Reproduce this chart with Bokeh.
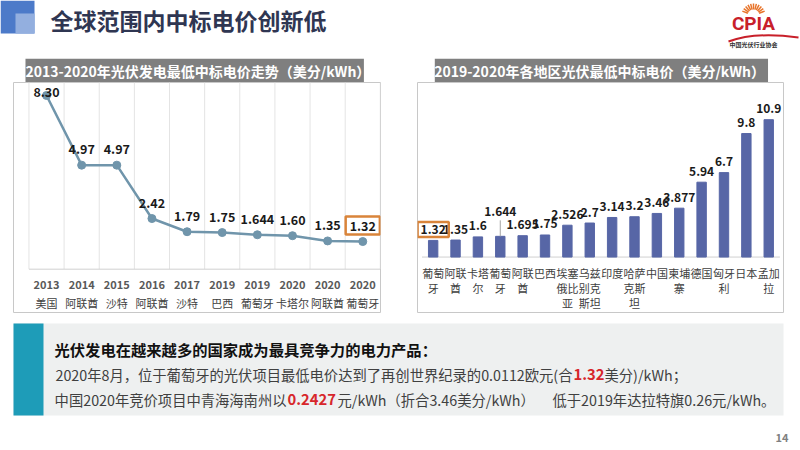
import numpy as np
from bokeh.plotting import figure
from bokeh.layouts import column, row
from bokeh.models import Range1d, ColumnDataSource
from bokeh.core.properties import value
from bokeh.embed import file_html
from bokeh.resources import INLINE

# ---------------- data ----------------
trend_years = ["2013", "2014", "2015", "2016", "2017", "2019", "2019", "2020", "2020", "2020"]
trend_countries = ["美国", "阿联酋", "沙特", "阿联酋", "沙特", "巴西", "葡萄牙", "卡塔尔", "阿联酋", "葡萄牙"]
trend_prices = [8.30, 4.97, 4.97, 2.42, 1.79, 1.75, 1.644, 1.60, 1.35, 1.32]
trend_labels = ["8.30", "4.97", "4.97", "2.42", "1.79", "1.75", "1.644", "1.60", "1.35", "1.32"]

region_names = ["葡萄\n牙", "阿联\n酋", "卡塔\n尔", "葡萄\n牙", "阿联\n酋", "巴西", "埃塞\n俄比\n亚",
                "乌兹\n别克\n斯坦", "印度", "哈萨\n克斯\n坦", "中国", "柬埔\n寨", "德国", "匈牙\n利",
                "日本", "孟加\n拉"]
region_prices = [1.32, 1.35, 1.6, 1.644, 1.695, 1.75, 2.526, 2.7, 3.14, 3.2, 3.46, 3.877, 5.94, 6.7, 9.8, 10.9]
region_labels = ["1.32", "1.35", "1.6", "1.644", "1.695", "1.75", "2.526", "2.7", "3.14", "3.2", "3.46",
                 "3.877", "5.94", "6.7", "9.8", "10.9"]

page_title = "全球范围内中标电价创新低"
left_title = "2013-2020年光伏发电最低中标电价走势（美分/kWh）"
right_title = "2019-2020年各地区光伏最低中标电价（美分/kWh）"

FONT = value("Noto Sans CJK SC")
LINE_C = "#7095AB"
BAR_C = "#5766A6"
ORANGE = "#D9843A"
BORDER = "#C8C8C8"
RED = "#D7262B"


def deco(w, h, x0, x1, y0, y1):
    p = figure(width=w, height=h, x_range=Range1d(x0, x1), y_range=Range1d(y1, y0),
               output_backend="svg", toolbar_location=None, min_border=0,
               x_axis_location=None, y_axis_location=None)
    p.grid.visible = False
    p.outline_line_color = None
    p.background_fill_color = "white"
    p.border_fill_color = "white"
    return p


# ---------------- top banner ----------------
top = deco(800, 58, 0, 800, 0, 58)
top.quad(left=0, right=34, top=0, bottom=33, color="#4C7AC9", line_color=None)
top.quad(left=15, right=34, top=13, bottom=33, color="#93AFDF", line_color=None)
top.text(x=[50], y=[19], text=[page_title], text_font=FONT, text_font_style="bold",
         text_font_size="23px", text_color="#2F3652", text_baseline="middle", text_align="left")
ang = np.linspace(np.pi * 0.12, np.pi * 0.88, 11)
top.segment(x0=753 + 6 * np.cos(ang), y0=15 - 6 * np.sin(ang),
            x1=753 + 12 * np.cos(ang), y1=15 - 12 * np.sin(ang),
            line_color="#E8742A", line_width=1.5)
top.text(x=[753], y=[23], text=["CPIA"], text_font=value("Roboto"), text_font_style="bold",
         text_font_size="19px", text_color="#C8202A", text_baseline="middle", text_align="center")
top.quadratic(x0=[728], y0=[41], x1=[798], y1=[37], cx=[755], cy=[31],
              line_color="#C8202A", line_width=2)
top.text(x=[753], y=[44], text=["中国光伏行业协会"], text_font=FONT, text_font_style="bold",
         text_font_size="6px", text_color="#333333", text_baseline="middle", text_align="center")


# ---------------- panel headers ----------------
def header(w, x0, x1, bx0, bx1, title, tx):
    h = deco(w, 24, x0, x1, 58, 82)
    h.quad(left=bx0, right=bx1, top=58, bottom=82, color="#7F7F7F", line_color=None)
    h.text(x=[tx], y=[70.5], text=[title], text_font=FONT, text_font_style="bold",
           text_font_size="14px", text_color="white", text_baseline="middle", text_align="center")
    return h


lh = header(398, 0, 398, 13, 380, left_title, 200)
rh = header(402, 398, 800, 417, 783, right_title, 598)


def body(w, xr, yr, mb_left, mb_right):
    p = figure(width=w, height=236, x_range=Range1d(*xr), y_range=Range1d(*yr),
               output_backend="svg", toolbar_location=None,
               x_axis_location=None, y_axis_location=None,
               min_border_left=mb_left, min_border_right=mb_right,
               min_border_top=0, min_border_bottom=6)
    p.grid.visible = False
    p.outline_line_color = BORDER
    p.outline_line_width = 1
    p.background_fill_color = "white"
    p.border_fill_color = "white"
    return p


# ---------------- left: line chart ----------------
n = len(trend_prices)
xs = list(range(n))
lb = body(398, (-0.94, 9.505), (-2.07, 8.92), 13, 18)
bounds = [i - 0.5 for i in range(n + 1)]
lb.segment(x0=bounds, y0=0, x1=bounds, y1=8.92, line_color="#E4E4E4", line_width=1)
lb.segment(x0=[-0.5], y0=[0], x1=[n - 0.5], y1=[0], line_color="#D0D0D0", line_width=1)
lb.line(xs, trend_prices, line_color=LINE_C, line_width=2.5)
lb.scatter(xs, trend_prices, size=8, color=LINE_C)

hl = n - 1
top_val = max(trend_prices)
lsrc = ColumnDataSource(dict(
    x=[xs[i] for i in range(n) if i != hl],
    y=[trend_prices[i] for i in range(n) if i != hl],
    t=[trend_labels[i] for i in range(n) if i != hl],
    dy=[(-3 if trend_prices[i] == top_val else -16) for i in range(n) if i != hl],
))
lb.text(x="x", y="y", text="t", y_offset="dy", source=lsrc, text_font=FONT, text_font_style="bold",
        text_font_size="12.5px", text_color="#1A1A1A", text_align="center", text_baseline="middle")
lb.text(x=[xs[hl]], y=[trend_prices[hl]], text=[trend_labels[hl]], y_offset=-16,
        text_font=FONT, text_font_style="bold", text_font_size="12.5px", text_color="#1A1A1A",
        text_align="center", text_baseline="middle",
        border_line_color=ORANGE, border_line_width=2.5, padding=4)
lb.text(x=xs, y=0, text=trend_years, y_offset=15.5, text_font=FONT, text_font_style="bold",
        text_font_size="11px", text_color="#595959", text_align="center", text_baseline="middle")
lb.text(x=xs, y=0, text=trend_countries, y_offset=33.5, text_font=FONT,
        text_font_size="11px", text_color="#404040", text_align="center", text_baseline="middle")

# ---------------- right: bar chart ----------------
m = len(region_prices)
rx = list(range(m))
rb = body(402, (-0.70, 15.66), (-4.4, 13.85), 19, 17)
rb.segment(x0=[-0.5], y0=[0], x1=[m - 0.5], y1=[0], line_color="#D0D0D0", line_width=1)
rb.vbar(x=rx, top=region_prices, width=0.42, color=BAR_C)

rhl = 0
raised = 3
rsrc = ColumnDataSource(dict(
    x=[rx[i] for i in range(m) if i != rhl],
    y=[region_prices[i] for i in range(m) if i != rhl],
    t=[region_labels[i] for i in range(m) if i != rhl],
    dy=[(-25 if i == raised else -11) for i in range(m) if i != rhl],
))
rb.ray(x=[rx[raised]], y=[region_prices[raised]], length=16, length_units="screen",
       angle=np.pi / 2, line_color="#A6A6A6", line_width=1)
rb.text(x="x", y="y", text="t", y_offset="dy", source=rsrc, text_font=FONT, text_font_style="bold",
        text_font_size="12px", text_color="#1A1A1A", text_align="center", text_baseline="middle")
rb.text(x=[rx[rhl]], y=[region_prices[rhl]], text=[region_labels[rhl]], y_offset=-11,
        text_font=FONT, text_font_style="bold", text_font_size="12px", text_color="#1A1A1A",
        text_align="center", text_baseline="middle",
        border_line_color=ORANGE, border_line_width=2.5, padding=3)
rows = [[], [], []]
for i, name in enumerate(region_names):
    parts = name.split("\n")
    for r in range(3):
        if r < len(parts):
            rows[r].append((rx[i], parts[r]))
for r, items in enumerate(rows):
    rb.text(x=[a for a, _ in items], y=0, text=[b for _, b in items], y_offset=16 + 15 * r,
            text_font=FONT, text_font_size="11px", text_color="#404040",
            text_align="center", text_baseline="middle")

# ---------------- bottom text box ----------------
bot = deco(800, 132, 0, 800, 318, 450)
bot.quad(left=13, right=783, top=323, bottom=415, color="#EEF0F0", line_color=None)
bot.quad(left=13, right=43, top=323, bottom=415, color="#1E9CB8", line_color=None)


def seg(x, y, t, color="#404040", bold=False, size="14.3px", align="left"):
    bot.text(x=[x], y=[y], text=[t], text_font=FONT, text_font_style="bold" if bold else "normal",
             text_font_size=size, text_color=color, text_align=align, text_baseline="middle")


seg(54, 348, "光伏发电在越来越多的国家成为最具竞争力的电力产品：", "#111111", True, "15.3px")
seg(572, 374, "2020年8月，位于葡萄牙的光伏项目最低电价达到了再创世界纪录的0.0112欧元(合", align="right")
seg(573, 374, "1.32", RED, True, "14.8px")
seg(604, 374, "美分)/kWh；")
seg(286, 399, "中国2020年竞价项目中青海海南州以", align="right")
seg(287, 399, "0.2427", RED, True, "14.8px")
seg(337, 399, "元/kWh（折合3.46美分/kWh）")
seg(552, 399, "低于2019年达拉特旗0.26元/kWh。")
bot.text(x=[788], y=[437], text=["14"], text_font=FONT, text_font_style="bold",
         text_font_size="11px", text_color="#808080", text_align="right", text_baseline="middle")

layout = column(top, row(column(lh, lb), column(rh, rb)), bot)
open("out.html", "w").write(file_html(layout, INLINE))
